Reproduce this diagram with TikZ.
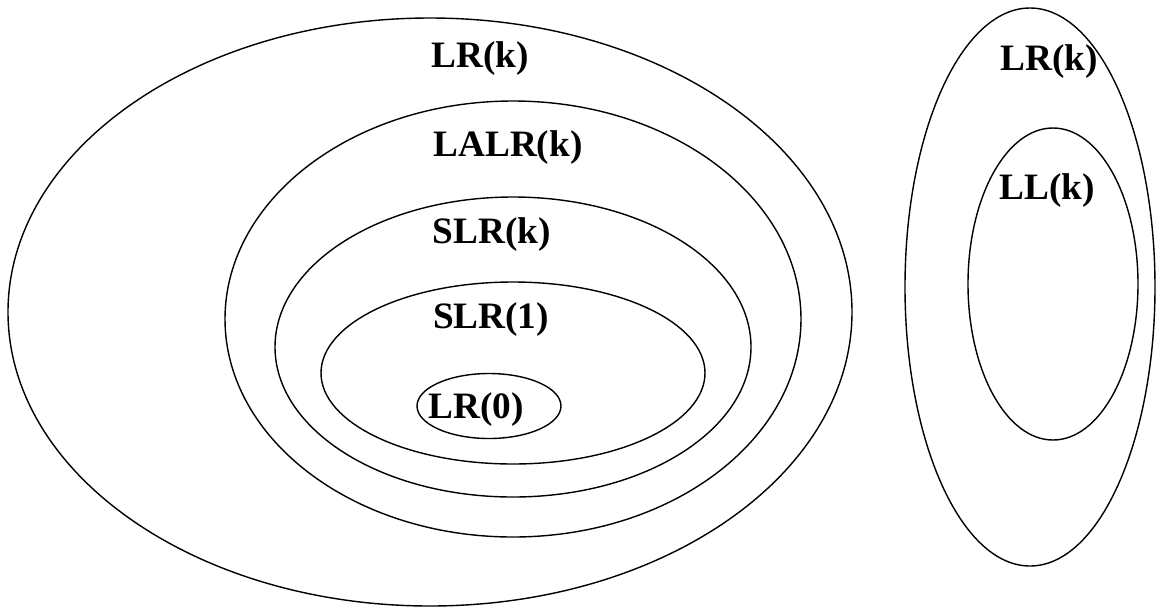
\documentclass[tikz,border=0pt]{standalone}
\usepackage{fontspec}
\setmainfont{Liberation Serif}
\usetikzlibrary{positioning}

\begin{document}
\begin{tikzpicture}[x=0.025cm,y=-0.025cm]
\tikzstyle{every node}+=[inner sep=0pt,font=\fontsize{26.5}{30}\selectfont\bfseries]
\useasboundingbox (0,0) rectangle (1160,608);
% LR family
\draw [black,line width=1pt] (430,312) ellipse (422 and 294);
\draw [black,line width=1pt] (513,319) ellipse (288 and 218);
\draw [black,line width=1pt] (513,347) ellipse (238 and 150);
\draw [black,line width=1pt] (513,373) ellipse (192 and 91);
\draw [black,line width=1pt] (489,406) ellipse (72 and 32.5);
\node (lrk) at (480,59) {LR(k)};
\node (lalrk) at (508,148) {LALR(k)};
\node (slrk) at (492,235) {SLR(k)};
\node (slr1) at (491,320) {SLR(1)};
\node (lr0) at (476,410) {LR(0)};
% LL family
\draw [black,line width=1pt] (1030,287) ellipse (125 and 279);
\draw [black,line width=1pt] (1053,284) ellipse (85 and 156);
\node (lrk2) at (1049,62) {LR(k)};
\node (llk) at (1047,191) {LL(k)};
\end{tikzpicture}
\end{document}
